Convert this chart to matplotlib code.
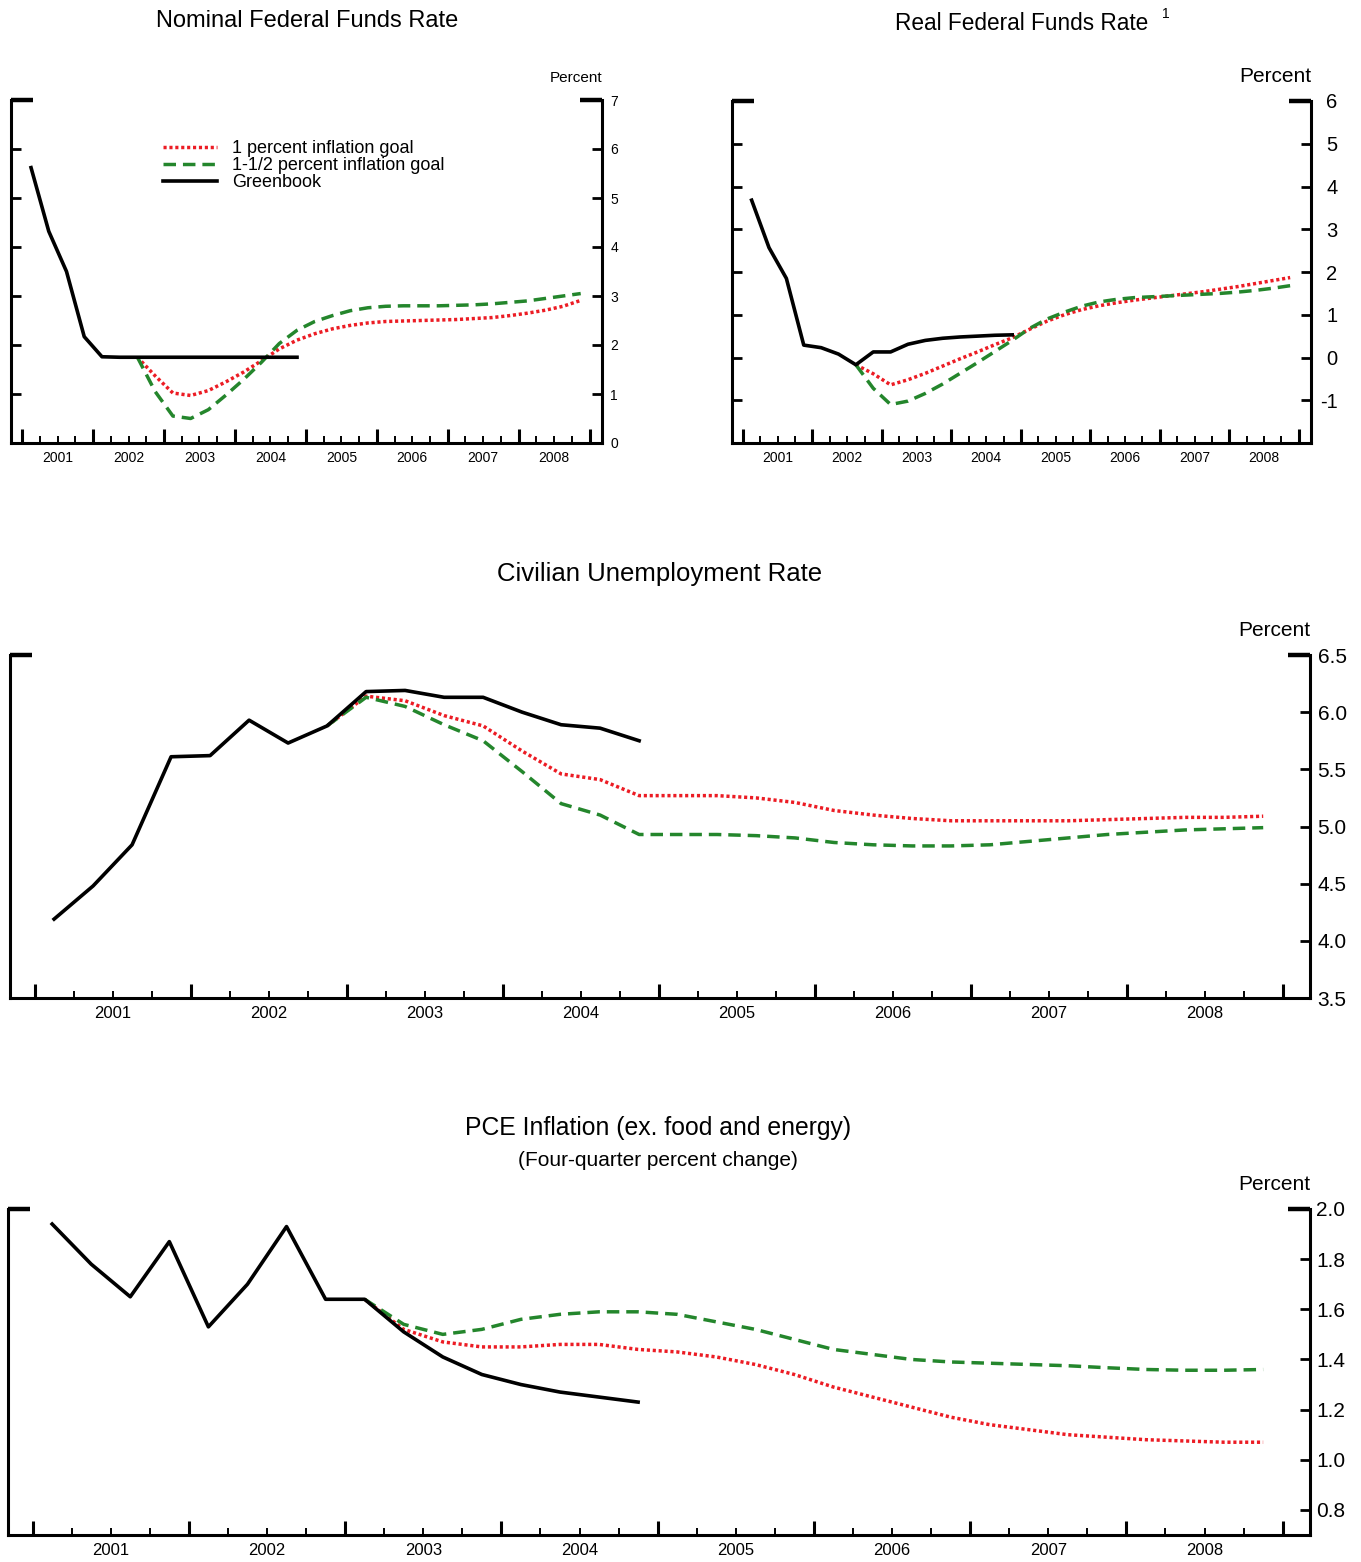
import numpy as np
import matplotlib
matplotlib.use("Agg")
from matplotlib import pyplot as plt

plt.rcParams['font.family'] = ['Liberation Sans', 'DejaVu Sans']

years = ["2001", "2002", "2003", "2004", "2005", "2006", "2007", "2008"]
labels = ["1 percent inflation goal", "1-1/2 percent inflation goal", "Greenbook"]

# quarterly values, first greenbook point is 2001Q1
nominal_gb = [5.62, 4.32, 3.50, 2.17, 1.76, 1.75, 1.75, 1.75, 1.75, 1.75, 1.75, 1.75, 1.75, 1.75, 1.75, 1.75]
nominal_1 = [1.75, 1.37, 1.02, 0.97, 1.07, 1.25, 1.45, 1.68, 1.92, 2.10, 2.23, 2.33, 2.40, 2.45, 2.48, 2.49,
             2.50, 2.51, 2.52, 2.54, 2.56, 2.60, 2.65, 2.71, 2.79, 2.91]
nominal_15 = [1.75, 1.05, 0.55, 0.50, 0.68, 0.98, 1.30, 1.65, 2.03, 2.30, 2.48, 2.60, 2.70, 2.76, 2.79, 2.80,
              2.80, 2.80, 2.81, 2.82, 2.84, 2.87, 2.90, 2.95, 3.00, 3.05]

real_gb = [3.68, 2.57, 1.85, 0.29, 0.23, 0.08, -0.17, 0.13, 0.13, 0.31, 0.40, 0.45, 0.48, 0.50, 0.52, 0.53]
real_1 = [-0.17, -0.38, -0.64, -0.52, -0.37, -0.20, -0.03, 0.13, 0.30, 0.46, 0.66, 0.85, 1.00, 1.12, 1.21, 1.28,
          1.34, 1.39, 1.44, 1.49, 1.54, 1.60, 1.66, 1.73, 1.80, 1.87]
real_15 = [-0.17, -0.72, -1.10, -1.02, -0.84, -0.62, -0.37, -0.12, 0.14, 0.40, 0.68, 0.90, 1.06, 1.20, 1.30, 1.36,
           1.40, 1.42, 1.44, 1.46, 1.48, 1.50, 1.53, 1.57, 1.62, 1.68]

unemp_gb = [4.19, 4.48, 4.84, 5.61, 5.62, 5.93, 5.73, 5.88, 6.18, 6.19, 6.13, 6.13, 6.00, 5.89, 5.86, 5.75]
unemp_1 = [5.88, 6.14, 6.10, 5.97, 5.88, 5.66, 5.46, 5.41, 5.27, 5.27, 5.27, 5.25, 5.21, 5.14, 5.10, 5.07,
           5.05, 5.05, 5.05, 5.05, 5.06, 5.07, 5.08, 5.08, 5.09]
unemp_15 = [5.88, 6.13, 6.05, 5.89, 5.75, 5.48, 5.20, 5.10, 4.93, 4.93, 4.93, 4.92, 4.90, 4.86, 4.84, 4.83,
            4.83, 4.84, 4.87, 4.90, 4.93, 4.95, 4.97, 4.98, 4.99]

pce_gb = [1.94, 1.78, 1.65, 1.87, 1.53, 1.70, 1.93, 1.64, 1.64, 1.51, 1.41, 1.34, 1.30, 1.27, 1.25, 1.23]
pce_1 = [1.64, 1.52, 1.47, 1.45, 1.45, 1.46, 1.46, 1.44, 1.43, 1.41, 1.38, 1.34, 1.29, 1.25, 1.21, 1.17,
         1.14, 1.12, 1.10, 1.09, 1.08, 1.075, 1.07, 1.07]
pce_15 = [1.64, 1.54, 1.50, 1.52, 1.56, 1.58, 1.59, 1.59, 1.58, 1.55, 1.52, 1.48, 1.44, 1.42, 1.40, 1.39,
          1.385, 1.38, 1.375, 1.367, 1.36, 1.357, 1.357, 1.36]

RED = "#ec1c24"
GREEN = "#24862c"


def qx(start, n):
    # quarter midpoints, quarter 0 = 2001Q1
    return np.arange(start, start + n) + 0.5


def draw(ax, gb, alt1, alt15, start):
    l1, = ax.plot(qx(start, len(alt1)), alt1, color=RED, lw=2.5, ls=(0, (0.9, 0.8)))
    l2, = ax.plot(qx(start, len(alt15)), alt15, color=GREEN, lw=2.5, ls=(0, (3.6, 2.0)))
    l3, = ax.plot(qx(0, len(gb)), gb, color="black", lw=2.6)
    return [l1, l2, l3]


def style(ax, ylim, yticks, ytl, tick_fs, year_fs, pad, left_ticks, cap, right_align=False):
    ax.set_xlim(-0.63, 32.7)
    ax.set_ylim(*ylim)
    ax.spines["top"].set_visible(False)
    for s in ["left", "right", "bottom"]:
        ax.spines[s].set_linewidth(2.2)
    ax.set_xticks(np.arange(0, 33, 4))
    ax.set_xticks(np.arange(0, 33), minor=True)
    ax.tick_params(axis="x", which="major", direction="in", length=10, width=2.2, labelbottom=False)
    ax.tick_params(axis="x", which="minor", direction="in", length=5, width=1.4)
    for k, yr in enumerate(years):
        ax.annotate(yr, xy=(4 * k + 2, 0), xycoords=ax.get_xaxis_transform(),
                    xytext=(0, -11), textcoords="offset points",
                    ha="center", va="center", fontsize=year_fs)
    ax.set_yticks(yticks)
    ax.set_yticklabels(ytl)
    ax.tick_params(axis="y", direction="in", length=7, width=2.0, left=left_ticks, right=True,
                   labelleft=False, labelright=True, labelsize=tick_fs, pad=pad)
    if right_align:
        for t in ax.get_yticklabels():
            t.set_horizontalalignment("right")
    ax.plot([0, cap], [1, 1], transform=ax.transAxes, color="black", lw=3.2,
            clip_on=False, solid_capstyle="butt")
    ax.plot([1 - cap, 1], [1, 1], transform=ax.transAxes, color="black", lw=3.2,
            clip_on=False, solid_capstyle="butt")


fig = plt.figure(figsize=(13.61, 15.62), dpi=100)
W, H = 1361.0, 1562.0


def add_axes(x0, x1, ytop, ybot):
    return fig.add_axes([x0 / W, 1 - ybot / H, (x1 - x0) / W, (ybot - ytop) / H])


# Nominal federal funds rate
ax1 = add_axes(11, 602, 100, 443)
handles = draw(ax1, nominal_gb, nominal_1, nominal_15, 6)
style(ax1, (0, 7), range(0, 8), [str(v) for v in range(0, 8)], 10, 10, 6, True, 0.037)
ax1.legend(handles, labels, loc="upper left", bbox_to_anchor=(0.257, 0.882), frameon=False,
           fontsize=13, labelspacing=0.0, handlelength=3.0, handletextpad=0.85,
           borderpad=0, borderaxespad=0)
ax1.text(1.0, 1.065, "Percent", transform=ax1.transAxes, ha="right", va="center", fontsize=11)
fig.text(307 / W, 1 - 21 / H, "Nominal Federal Funds Rate", ha="center", va="center", fontsize=17)

# Real federal funds rate
ax2 = add_axes(732, 1311, 101, 443)
draw(ax2, real_gb, real_1, real_15, 6)
style(ax2, (-2, 6), range(-1, 7), [str(v) for v in range(-1, 7)], 14.5, 10, 19, True, 0.038,
      right_align=True)
ax2.text(1.0, 1.073, "Percent", transform=ax2.transAxes, ha="right", va="center", fontsize=15)
fig.text(1022 / W, 1 - 24 / H, "Real Federal Funds Rate", ha="center", va="center", fontsize=16.3)
fig.text(1166 / W, 1 - 14 / H, "1", ha="center", va="center", fontsize=10)

# Civilian unemployment rate
ax3 = add_axes(10, 1310, 655, 998)
draw(ax3, unemp_gb, unemp_1, unemp_15, 7)
ut = np.arange(3.5, 6.51, 0.5)
style(ax3, (3.5, 6.5), ut, ["%.1f" % v for v in ut], 15, 12, 5.5, False, 0.017)
ax3.text(1.0, 1.07, "Percent", transform=ax3.transAxes, ha="right", va="center", fontsize=15)
fig.text(660 / W, 1 - 574 / H, "Civilian Unemployment Rate", ha="center", va="center", fontsize=18.5)

# PCE inflation
ax4 = add_axes(8, 1310, 1209, 1535)
draw(ax4, pce_gb, pce_1, pce_15, 8)
pt = np.arange(0.8, 2.01, 0.2)
style(ax4, (0.7, 2.0), pt, ["%.1f" % v for v in pt], 15, 12, 4.5, False, 0.017)
ax4.text(1.0, 1.074, "Percent", transform=ax4.transAxes, ha="right", va="center", fontsize=15)
fig.text(658 / W, 1 - 1128 / H, "PCE Inflation (ex. food and energy)", ha="center", va="center",
         fontsize=17.8)
fig.text(658 / W, 1 - 1161 / H, "(Four-quarter percent change)", ha="center", va="center", fontsize=15)

fig.savefig("out.png", dpi=100)
